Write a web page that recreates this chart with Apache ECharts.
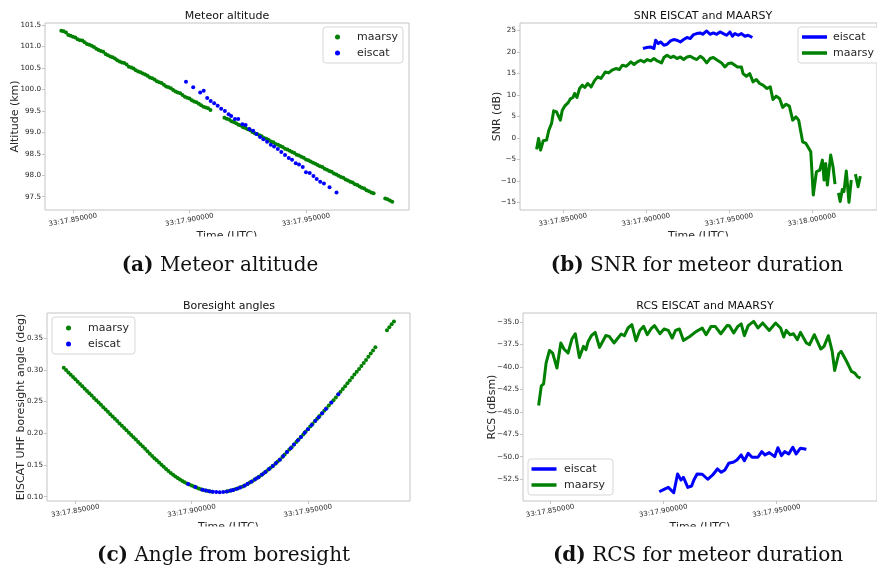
<!DOCTYPE html>
<html>
<head>
<meta charset="utf-8">
<script src="https://cdn.jsdelivr.net/npm/echarts@6/dist/echarts.min.js"></script>
<style>
  html, body { margin: 0; padding: 0; background: #ffffff; }
  #chart { width: 877px; height: 569px; }
</style>
</head>
<body>
<div id="chart"></div>
<script>
// All times are milliseconds after 33:17.800000 UTC.
const timeTicks = [50, 100, 150, 200];
const altTicks = [97.5, 98.0, 98.5, 99.0, 99.5, 100.0, 100.5, 101.0, 101.5];
const snrTicks = [-15, -10, -5, 0, 5, 10, 15, 20, 25];
const angleTicks = [0.10, 0.15, 0.20, 0.25, 0.30, 0.35];
const rcsTicks = [-52.5, -50.0, -47.5, -45.0, -42.5, -40.0, -37.5, -35.0];

// MAARSY detections used for altitude and boresight angle
const maarsyDotTime = [
  45, 46, 47, 48, 49, 50, 51, 52, 53, 54, 55, 56, 57, 58, 59, 60, 61, 62, 63, 64,
  65, 66, 67, 68, 69, 70, 71, 72, 73, 74, 75, 76, 77, 78, 79, 80, 81, 82, 83, 84,
  85, 86, 87, 88, 89, 90, 91, 92, 93, 94, 95, 96, 97, 98, 99, 100, 101, 102, 103, 104,
  105, 106, 107, 108, 109,
  115, 116, 117, 118, 119, 120, 121, 122, 123, 124, 125, 126, 127, 128, 129, 130, 131, 132, 133, 134,
  135, 136, 137, 138, 139, 140, 141, 142, 143, 144, 145, 146, 147, 148, 149, 150, 151, 152, 153, 154,
  155, 156, 157, 158, 159, 160, 161, 162, 163, 164, 165, 166, 167, 168, 169, 170, 171, 172, 173, 174,
  175, 176, 177, 178, 179,
  184, 185, 186, 187
];
const altMaarsy = [
  101.37, 101.36, 101.33, 101.27, 101.25, 101.23, 101.21, 101.17, 101.15, 101.14,
  101.10, 101.06, 101.04, 101.02, 100.99, 100.95, 100.92, 100.90, 100.88, 100.83,
  100.80, 100.77, 100.75, 100.72, 100.68, 100.65, 100.63, 100.62, 100.58, 100.53,
  100.51, 100.49, 100.45, 100.42, 100.40, 100.37, 100.35, 100.32, 100.28, 100.26,
  100.23, 100.19, 100.17, 100.15, 100.11, 100.07, 100.05, 100.03, 99.99, 99.95,
  99.93, 99.91, 99.87, 99.83, 99.81, 99.79, 99.75, 99.72, 99.70, 99.67,
  99.63, 99.60, 99.58, 99.56, 99.52,
  99.34, 99.32, 99.30, 99.26, 99.24, 99.21, 99.18, 99.16, 99.12, 99.10,
  99.07, 99.05, 99.01, 98.98, 98.96, 98.93, 98.91, 98.87, 98.85, 98.82,
  98.79, 98.77, 98.73, 98.71, 98.68, 98.66, 98.62, 98.60, 98.57, 98.54,
  98.52, 98.48, 98.46, 98.43, 98.41, 98.37, 98.35, 98.32, 98.29, 98.27,
  98.24, 98.21, 98.19, 98.15, 98.13, 98.10, 98.08, 98.04, 98.02, 97.99,
  97.96, 97.94, 97.90, 97.88, 97.85, 97.83, 97.79, 97.77, 97.74, 97.71,
  97.69, 97.65, 97.63, 97.60, 97.58,
  97.46, 97.44, 97.41, 97.38
];
const angleMaarsy = [
  0.3031, 0.2995, 0.2958, 0.2922, 0.2885, 0.2849, 0.2812, 0.2776, 0.2739, 0.2703,
  0.2666, 0.2630, 0.2593, 0.2557, 0.2520, 0.2484, 0.2447, 0.2411, 0.2374, 0.2338,
  0.2301, 0.2265, 0.2228, 0.2192, 0.2155, 0.2119, 0.2082, 0.2046, 0.2009, 0.1973,
  0.1936, 0.1900, 0.1863, 0.1827, 0.1790, 0.1754, 0.1716, 0.1676, 0.1641, 0.1607,
  0.1573, 0.1539, 0.1505, 0.1471, 0.1437, 0.1405, 0.1375, 0.1346, 0.1319, 0.1294,
  0.1270, 0.1248, 0.1228, 0.1209, 0.1192, 0.1176, 0.1160, 0.1145, 0.1130, 0.1117,
  0.1106, 0.1097, 0.1089, 0.1082, 0.1077,
  0.1080, 0.1089, 0.1098, 0.1108, 0.1120, 0.1133, 0.1147, 0.1162, 0.1180, 0.1201,
  0.1222, 0.1244, 0.1267, 0.1291, 0.1316, 0.1342, 0.1369, 0.1397, 0.1427, 0.1457,
  0.1488, 0.1520, 0.1553, 0.1587, 0.1624, 0.1664, 0.1703, 0.1742, 0.1781, 0.1821,
  0.1861, 0.1901, 0.1941, 0.1982, 0.2023, 0.2064, 0.2105, 0.2146, 0.2187, 0.2228,
  0.2270, 0.2311, 0.2353, 0.2395, 0.2437, 0.2479, 0.2521, 0.2565, 0.2609, 0.2653,
  0.2697, 0.2741, 0.2786, 0.2831, 0.2879, 0.2924, 0.2969, 0.3014, 0.3059, 0.3107,
  0.3155, 0.3205, 0.3255, 0.3305, 0.3357,
  0.3622, 0.3670, 0.3716, 0.3762
];

// EISCAT UHF detections used for altitude and boresight angle
const eiscatDotTime = [
  98.5, 101.6, 104.6, 106.1, 107.6, 109.1, 110.6, 112.1, 113.6, 115.2,
  116.8, 117.9, 119.5, 120.9, 122.7, 124.1, 125.7, 127.3, 128.7, 130.3,
  131.7, 133.3, 134.9, 136.3, 137.9, 139.4, 141.0, 142.6, 144.0, 145.6,
  147.0, 148.6, 150.0, 151.6, 153.2, 154.6, 156.1, 157.7, 160.1, 163.1
];
const altEiscat = [
  100.18, 100.05, 99.93, 99.97, 99.80, 99.73, 99.68, 99.62, 99.55, 99.50,
  99.42, 99.38, 99.31, 99.31, 99.19, 99.17, 99.08, 99.04, 98.96, 98.89,
  98.84, 98.78, 98.71, 98.67, 98.61, 98.54, 98.47, 98.40, 98.36, 98.28,
  98.25, 98.19, 98.07, 98.05, 97.98, 97.91, 97.85, 97.81, 97.72, 97.60
];
const angleEiscat = [
  0.1200, 0.1151, 0.1110, 0.1096, 0.1085, 0.1077, 0.1073, 0.1071, 0.1074, 0.1082,
  0.1096, 0.1107, 0.1126, 0.1146, 0.1174, 0.1203, 0.1237, 0.1274, 0.1308, 0.1350,
  0.1389, 0.1436, 0.1484, 0.1530, 0.1584, 0.1640, 0.1703, 0.1765, 0.1821, 0.1885,
  0.1941, 0.2007, 0.2064, 0.2130, 0.2195, 0.2253, 0.2315, 0.2382, 0.2483, 0.2613
];

// Signal-to-noise ratio (dB); null marks dropouts
const snrMaarsyTime = [
  34.1, 35.3, 36.5, 38.1, 40.1, 41.5, 43.1, 44.4, 46.1, 47.0, 48.4, 49.6, 51.0, 53.0,
  54.4, 56.0, 57.0, 58.4, 60.0, 61.6, 63.1, 64.9, 67.0, 68.9, 70.9, 72.9, 75.5, 77.5,
  79.5, 81.9, 83.9, 85.8, 88.2, 90.9, 92.8, 94.8, 96.8, 98.8, 100.8, 102.8, 104.8, 106.8,
  109.4, 110.8, 112.7, 114.8, 116.7, 118.7, 120.7, 122.7, 124.7, 126.7, 128.7, 130.6, 132.7,
  134.6, 136.6, 138.6, 140.6, 143.0, 145.6, 147.6, 149.6, 151.6, 153.6, 155.1, 157.5, 158.5,
  160.5, 162.5, 164.5, 166.5, 168.5, 170.5, 172.9, 174.9, 176.5, 178.5, 180.5, 182.4, 184.4,
  186.4, 188.4, 190.4, 192.0, 194.4, 196.4, 197.4, 199.3, 200.8, 202.7, 204.7, 206.3, 207.3,
  208.3, 209.3, 211.3, 212.7, 213.9, 215.0, 216.0, 217.0, 218.3, 219.3, 220.7, 222.3, 223.7,
  225.0, 226.2, 227.8, 229.2
];
const snrMaarsy = [
  -2.69, -0.14, -2.86, -0.69, -0.53, 1.79, 3.34, 6.27, 6.04, 5.27, 4.11, 6.43, 7.36, 8.12,
  9.05, 9.38, 10.3, 9.38, 11.47, 12.23, 11.70, 12.63, 11.84, 13.23, 14.16, 13.79, 15.32, 15.09,
  15.71, 16.11, 15.87, 16.88, 16.64, 17.64, 17.04, 17.64, 18.04, 17.64, 18.20, 17.87, 18.43, 17.87,
  17.41, 18.66, 19.20, 18.66, 18.96, 18.43, 18.80, 18.20, 18.80, 18.96, 18.50, 18.20, 18.96,
  18.43, 17.41, 18.43, 18.66, 18.04, 17.41, 16.48, 17.27, 17.41, 16.88, 16.48, 16.48, 14.94,
  14.32, 14.94, 13.00, 13.56, 12.63, 12.23, 11.47, 11.84, 8.91, 9.68, 9.15, 7.06, 7.82,
  7.36, 4.11, 4.88, 4.11, -0.93, -1.30, -0.93, -3.25, -13.3, -7.89, -7.50, -5.18, -9.82,
  -5.95, -10.98, -4.02, -6.73, -10.75, null, -12.8, -14.8, -12.0, -12.5, -7.7, -15.0, -9.8,
  null, -8.43, -11.37, -8.89
];
const snrEiscatTime = [
  98.2, 100.2, 102.8, 104.8, 105.8, 107.4, 108.8, 110.8, 112.7, 114.8, 116.7, 118.7,
  120.7, 122.7, 124.7, 126.7, 128.7, 130.6, 132.7, 134.2, 136.6, 138.6, 140.6, 142.6,
  144.6, 146.6, 148.6, 150.6, 152.1, 153.6, 155.6, 157.5, 159.6, 161.5, 164.1
];
const snrEiscat = [
  20.75, 20.98, 21.13, 20.75, 22.68, 21.91, 22.29, 21.52, 21.75, 22.52, 22.84, 22.68,
  22.29, 22.84, 23.31, 23.07, 24.00, 24.23, 24.38, 24.07, 24.84, 24.07, 24.38, 24.07,
  24.61, 24.23, 23.84, 24.61, 23.61, 24.23, 23.84, 24.23, 23.61, 23.84, 23.31
];

// Radar cross section (dBsm)
const rcsMaarsyTime = [
  44.9, 46.1, 47.1, 48.2, 49.7, 51.1, 53.0, 54.7, 56.1, 57.9, 59.6, 61.1, 62.9, 64.7,
  65.8, 66.8, 68.2, 69.9, 71.8, 73.2, 74.6, 76.1, 78.2, 79.6, 81.4, 82.8, 84.4, 86.1,
  87.9, 89.6, 91.3, 92.9, 94.6, 96.1, 98.5, 100.3, 102.2, 103.9, 105.4, 107.1, 108.9,
  111.5, 114.3, 117.2, 118.9, 121.1, 122.9, 125.4, 128.2, 129.2, 131.1, 132.9, 134.4,
  135.8, 137.5, 139.9, 141.8, 143.9, 146.8, 149.6, 151.8, 153.2, 154.3, 156.0, 157.5,
  159.2, 160.6, 163.2, 164.6, 166.7, 169.6, 171.0, 172.9, 174.6, 175.7, 177.5, 178.6,
  181.0, 183.1, 184.6, 185.7, 187.1
];
const rcsMaarsy = [
  -44.31, -42.11, -41.89, -39.58, -38.17, -38.46, -40.13, -37.34, -38.01, -38.46, -36.90, -36.31, -38.95, -37.72,
  -38.09, -37.17, -36.53, -36.16, -37.83, -37.17, -36.50, -36.61, -37.34, -36.90, -36.34, -36.53, -35.67, -35.30,
  -37.09, -35.94, -35.49, -36.42, -35.75, -35.41, -36.31, -35.78, -35.94, -36.79, -35.94, -35.78, -37.05,
  -36.65, -36.10, -35.67, -36.42, -35.49, -35.49, -36.31, -35.38, -35.41, -36.23, -35.49, -35.22,
  -36.53, -35.41, -34.93, -35.67, -35.11, -35.94, -35.11, -35.67, -36.67, -35.94, -36.42, -36.31,
  -36.98, -36.16, -37.34, -37.53, -36.42, -38.01, -37.72, -36.53, -38.28, -40.40, -38.54, -38.28,
  -39.40, -40.51, -40.69, -41.07, -41.25
];
const rcsEiscatTime = [
  98.2, 100.3, 102.2, 104.6, 106.3, 107.8, 108.9, 110.8, 112.5, 113.5, 114.9, 117.2,
  119.6, 121.8, 123.9, 125.6, 127.2, 128.9, 131.1, 132.5, 134.4, 135.8, 137.5, 139.2,
  141.8, 143.5, 144.9, 146.8, 149.2, 150.6, 152.2, 153.6, 155.4, 157.2, 158.7, 160.6, 163.2
];
const rcsEiscat = [
  -53.91, -53.64, -53.42, -54.02, -51.93, -52.60, -52.30, -53.42, -53.27, -52.60, -51.93, -51.96,
  -52.52, -52.04, -51.37, -51.74, -51.48, -50.74, -50.59, -50.37, -49.81, -50.45, -49.62, -50.07,
  -50.07, -49.44, -49.81, -49.55, -50.00, -49.00, -49.89, -49.44, -49.70, -48.95, -49.70, -49.06, -49.17
];

const GREEN = '#008000';
const BLUE = '#0000ff';
const SANS = 'DejaVu Sans';
const SERIF = 'DejaVu Serif';
const FRAME = '#c4c4c4';
const INK = '#262626';

const pairs = (xs, ys) => xs.map((x, i) => [x, ys[i]]);
const minus = s => s.replace('-', '\u2212');
const timeLabel = v => '33:' + (17.8 + v / 1000).toFixed(6);

const grids = [
  { left: 45, top: 23, width: 364, height: 187 },
  { left: 520, top: 23, width: 360, height: 187 },
  { left: 47, top: 313, width: 363, height: 188 },
  { left: 523, top: 313, width: 365, height: 188 }
].map(g => Object.assign(g, { show: true, borderColor: FRAME, borderWidth: 1, containLabel: false }));

function xAxisFor(gridIndex, min, max) {
  return {
    type: 'value', gridIndex, min, max,
    name: 'Time (UTC)', nameLocation: 'middle', nameGap: 20.5, nameMoveOverlap: false,
    nameTextStyle: { fontFamily: SANS, fontSize: 11, color: INK },
    axisLine: { show: false, onZero: false },
    splitLine: { show: false },
    axisTick: { show: true, customValues: timeTicks, length: 3, lineStyle: { color: FRAME } },
    axisLabel: {
      customValues: timeTicks, formatter: timeLabel, rotate: 10,
      align: 'center', verticalAlign: 'middle', margin: 10,
      fontFamily: SANS, fontSize: 7, color: INK
    }
  };
}

function yAxisFor(gridIndex, min, max, name, nameGap, ticks, fmt) {
  return {
    type: 'value', gridIndex, min, max,
    name, nameLocation: 'middle', nameGap, nameMoveOverlap: false,
    nameTextStyle: { fontFamily: SANS, fontSize: 11, color: INK },
    axisLine: { show: false, onZero: false },
    splitLine: { show: false },
    axisTick: { show: true, customValues: ticks, length: 3, lineStyle: { color: FRAME } },
    axisLabel: { customValues: ticks, formatter: fmt, margin: 4, fontFamily: SANS, fontSize: 7.2, color: INK }
  };
}

const legendBase = {
  orient: 'vertical', selectedMode: false,
  formatter: n => n.slice(n.indexOf('-') + 1),
  borderColor: '#d6d6d6', borderWidth: 1, borderRadius: 3, backgroundColor: '#ffffff',
  itemGap: 4
};
const legendText = padLeft => ({
  fontFamily: SANS, fontSize: 11, color: INK, lineHeight: 12, padding: [0, 0, 0, padLeft]
});

function dots(name, xAxisIndex, xs, ys, color, z) {
  return {
    name, type: 'scatter', xAxisIndex, yAxisIndex: xAxisIndex,
    data: pairs(xs, ys), symbol: 'circle', symbolSize: 4, z,
    itemStyle: { color, opacity: 1 }, emphasis: { disabled: true }, silent: true
  };
}
function trace(name, xAxisIndex, xs, ys, color, z) {
  return {
    name, type: 'line', xAxisIndex, yAxisIndex: xAxisIndex,
    data: pairs(xs, ys), symbol: 'none', showSymbol: false, connectNulls: false, z,
    lineStyle: { color, width: 3, join: 'round' }, itemStyle: { color },
    emphasis: { disabled: true }, silent: true
  };
}

function caption(x, y, tag, text) {
  return {
    type: 'text', x, y, z: 120,
    style: {
      text: '{b|' + tag + '} ' + text,
      fontFamily: SERIF, fontSize: 20, fill: '#111',
      align: 'center', verticalAlign: 'middle',
      textAlign: 'center', textVerticalAlign: 'middle',
      rich: { b: { fontFamily: SERIF, fontSize: 20, fontWeight: 'bold', fill: '#111' } }
    }
  };
}
function plotTitle(x, y, text) {
  return {
    type: 'text', x, y, z: 120,
    style: {
      text, fontFamily: SANS, fontSize: 11, fill: '#111',
      align: 'center', verticalAlign: 'middle',
      textAlign: 'center', textVerticalAlign: 'middle'
    }
  };
}

const option = {
  animation: false,
  backgroundColor: '#ffffff',
  grid: grids,
  xAxis: [
    xAxisFor(0, 38.0, 194.2),
    xAxisFor(1, 24.1, 239.2),
    xAxisFor(2, 37.8, 193.9),
    xAxisFor(3, 38.0, 194.4)
  ],
  yAxis: [
    yAxisFor(0, 97.19, 101.55, 'Altitude (km)', 24.5, altTicks, v => v.toFixed(1)),
    yAxisFor(1, -16.78, 26.69, 'SNR (dB)', 17.5, snrTicks, v => minus(String(v))),
    yAxisFor(2, 0.0932, 0.3895, 'EISCAT UHF boresight angle (deg)', 20.5, angleTicks, v => v.toFixed(2)),
    yAxisFor(3, -54.94, -34.0, 'RCS (dBsm)', 25.5, rcsTicks, v => minus(v.toFixed(1)))
  ],
  legend: [
    Object.assign({}, legendBase, {
      data: ['alt-maarsy', 'alt-eiscat'], left: 323, top: 27, icon: 'circle',
      itemWidth: 5, itemHeight: 5, padding: [4, 5, 4, 12], textStyle: legendText(12)
    }),
    Object.assign({}, legendBase, {
      data: ['snr-eiscat', 'snr-maarsy'], left: 798, top: 27, icon: 'rect',
      itemWidth: 25, itemHeight: 3.5, padding: [4, 14, 4, 4], textStyle: legendText(1)
    }),
    Object.assign({}, legendBase, {
      data: ['ang-maarsy', 'ang-eiscat'], left: 52, top: 317, icon: 'circle',
      itemWidth: 5, itemHeight: 5, padding: [5, 6, 4, 14], textStyle: legendText(12)
    }),
    Object.assign({}, legendBase, {
      data: ['rcs-eiscat', 'rcs-maarsy'], left: 528, top: 459, icon: 'rect',
      itemWidth: 25, itemHeight: 3.5, padding: [4, 8, 4, 3.5], textStyle: legendText(2.5)
    })
  ],
  series: [
    dots('alt-maarsy', 0, maarsyDotTime, altMaarsy, GREEN, 2),
    dots('alt-eiscat', 0, eiscatDotTime, altEiscat, BLUE, 3),
    trace('snr-eiscat', 1, snrEiscatTime, snrEiscat, BLUE, 2),
    trace('snr-maarsy', 1, snrMaarsyTime, snrMaarsy, GREEN, 3),
    dots('ang-maarsy', 2, maarsyDotTime, angleMaarsy, GREEN, 2),
    dots('ang-eiscat', 2, eiscatDotTime, angleEiscat, BLUE, 3),
    trace('rcs-eiscat', 3, rcsEiscatTime, rcsEiscat, BLUE, 2),
    trace('rcs-maarsy', 3, rcsMaarsyTime, rcsMaarsy, GREEN, 3)
  ],
  graphic: [
    plotTitle(227, 16, 'Meteor altitude'),
    plotTitle(703, 16, 'SNR EISCAT and MAARSY'),
    plotTitle(229, 306.5, 'Boresight angles'),
    plotTitle(705, 306, 'RCS EISCAT and MAARSY'),
    // the subfigures are trimmed just below the time axis titles
    { type: 'rect', z: 110, shape: { x: 0, y: 236.5, width: 877, height: 16 }, style: { fill: '#ffffff' } },
    { type: 'rect', z: 110, shape: { x: 0, y: 526.5, width: 877, height: 16 }, style: { fill: '#ffffff' } },
    caption(220, 266, '(a)', 'Meteor altitude'),
    caption(697, 266, '(b)', 'SNR for meteor duration'),
    caption(223.5, 556, '(c)', 'Angle from boresight'),
    caption(698, 556, '(d)', 'RCS for meteor duration')
  ]
};

const chart = echarts.init(document.getElementById('chart'), null, { renderer: 'canvas' });
chart.setOption(option);
</script>
</body>
</html>
